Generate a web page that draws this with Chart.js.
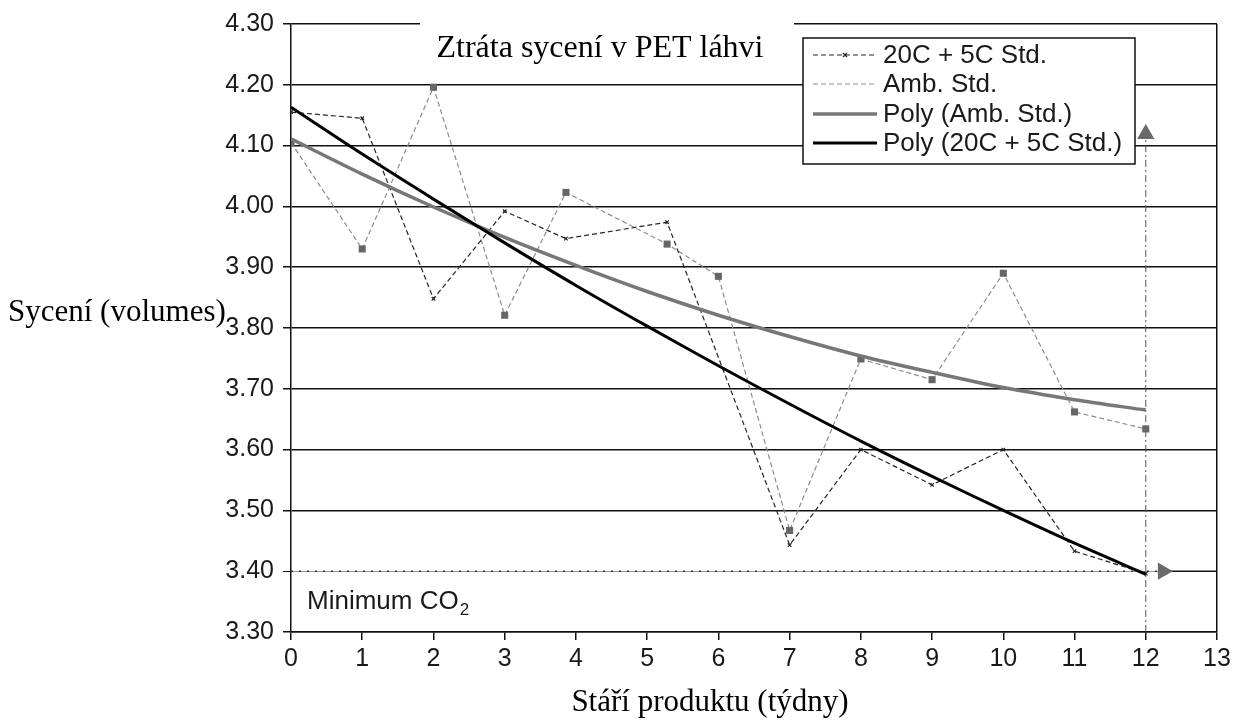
<!DOCTYPE html>
<html lang="cs">
<head>
<meta charset="UTF-8">
<title>Ztráta sycení v PET láhvi</title>
<script src="https://cdn.jsdelivr.net/npm/chart.js"></script>
<style>
  html, body { margin: 0; padding: 0; background: #fff; }
</style>
</head>
<body>
<canvas id="co2Chart" width="1236" height="721"></canvas>

<script>
// měření sycení (objemy CO2) podle stáří produktu v týdnech
const weeksAmb = [0, 1, 2, 3, 3.86, 5.28, 6, 7, 8, 9, 10, 11, 12];
const ambStd = [4.105, 3.93, 4.196, 3.821, 4.023, 3.938, 3.885, 3.467, 3.749, 3.715, 3.89, 3.662, 3.634];

const weeks20C = [0, 1, 2, 3, 3.86, 5.28, 7, 8, 9, 10, 11, 12];
const std20C5C = [4.155, 4.145, 3.848, 3.992, 3.947, 3.974, 3.443, 3.60, 3.542, 3.60, 3.433, 3.396];

// polynomické spojnice trendu
const trendWeeks = [0, 1, 2, 3, 4, 5, 6, 7, 8, 9, 10, 11, 12];
const polyAmb = [4.111, 4.053, 3.999, 3.949, 3.903, 3.860, 3.821, 3.786, 3.754, 3.727, 3.702, 3.682, 3.665];
const poly20C = [4.163, 4.086, 4.012, 3.940, 3.870, 3.803, 3.738, 3.675, 3.614, 3.556, 3.500, 3.446, 3.395];

// minimální sycení a šipky
const minCO2 = 3.40;
const shelfLife = 12;
const arrowUpTop = 4.119;
const arrowRightX = 12.24;

const yMin = 3.30, yMax = 4.30, yStep = 0.1;
const xMin = 0, xMax = 13;

const labels = ['20C + 5C Std.', 'Amb. Std.', 'Poly (Amb. Std.)', 'Poly (20C + 5C Std.)'];
const titleText = 'Ztráta sycení v PET láhvi';
const yTitle = 'Sycení (volumes)';
const xTitle = 'Stáří produktu (týdny)';

const pts = (xs, ys) => xs.map((x, i) => ({ x: x, y: ys[i] }));

const SANS = '"Liberation Sans", Arial, sans-serif';
const SERIF = '"Liberation Serif", "Times New Roman", serif';

// titulky, legenda a popisek minima
const decor = {
    id: 'decor',
    afterDraw(chart) {
        const ctx = chart.ctx;
        const a = chart.chartArea;
        ctx.save();

        // nadpis přerušuje horní linku
        ctx.fillStyle = '#fff';
        ctx.fillRect(420, a.top - 4, 374, 8);
        ctx.fillStyle = '#000';
        ctx.font = '32px ' + SERIF;
        ctx.textAlign = 'center';
        ctx.textBaseline = 'alphabetic';
        ctx.fillText(titleText, 600, 57);

        // popisky os
        ctx.font = '31px ' + SERIF;
        ctx.textAlign = 'left';
        ctx.fillText(yTitle, 8, 321);
        ctx.textAlign = 'center';
        ctx.fillText(xTitle, 710, 711);

        // Minimum CO2
        ctx.fillStyle = '#1a1a1a';
        ctx.textAlign = 'left';
        ctx.font = '26px ' + SANS;
        const t = 'Minimum CO';
        ctx.fillText(t, 307, 609);
        const w = ctx.measureText(t).width;
        ctx.font = '17px ' + SANS;
        ctx.fillText('2', 307 + w + 1, 615);

        // legenda
        const lx = 803, ly = 38, lw = 332, lh = 126;
        ctx.fillStyle = '#fff';
        ctx.fillRect(lx, ly, lw, lh);
        ctx.strokeStyle = '#111';
        ctx.lineWidth = 1.5;
        ctx.setLineDash([]);
        ctx.strokeRect(lx, ly, lw, lh);

        const rows = [55, 84, 114, 143];
        for (let i = 0; i < 4; i++) {
            const ds = chart.data.datasets[i];
            const y = rows[i];
            ctx.strokeStyle = ds.borderColor;
            ctx.lineWidth = ds.borderWidth;
            ctx.setLineDash(ds.borderDash || []);
            ctx.beginPath();
            ctx.moveTo(813, y);
            ctx.lineTo(877, y);
            ctx.stroke();
            if (i === 0) {
                ctx.setLineDash([]);
                ctx.lineWidth = 1.2;
                ctx.beginPath();
                ctx.moveTo(843, y - 2); ctx.lineTo(847, y + 2);
                ctx.moveTo(843, y + 2); ctx.lineTo(847, y - 2);
                ctx.stroke();
            }
            ctx.fillStyle = '#1a1a1a';
            ctx.font = '26px ' + SANS;
            ctx.textBaseline = 'middle';
            ctx.textAlign = 'left';
            ctx.fillText(labels[i], 883, y + 1);
        }
        ctx.restore();
    }
};

const ctx = document.getElementById('co2Chart').getContext('2d');
new Chart(ctx, {
    type: 'line',
    data: {
        datasets: [
            {
                label: labels[0],
                data: pts(weeks20C, std20C5C),
                borderColor: '#262626',
                borderWidth: 1.2,
                borderDash: [5, 3],
                pointStyle: 'crossRot',
                pointRadius: 2.5,
                pointBorderWidth: 1.2,
                pointBorderColor: '#262626',
                order: 2
            },
            {
                label: labels[1],
                data: pts(weeksAmb, ambStd),
                borderColor: '#8c8c8c',
                borderWidth: 1.2,
                borderDash: [5, 3],
                pointStyle: 'rect',
                pointRadius: 5,
                pointBorderWidth: 0,
                pointBackgroundColor: '#666',
                order: 3
            },
            {
                label: labels[2],
                data: pts(trendWeeks, polyAmb),
                borderColor: '#777',
                borderWidth: 3.5,
                pointRadius: 0,
                tension: 0.3,
                order: 1
            },
            {
                label: labels[3],
                data: pts(trendWeeks, poly20C),
                borderColor: '#000',
                borderWidth: 3,
                pointRadius: 0,
                tension: 0.3,
                order: 0
            },
            {
                // tečkovaná hranice minima se šipkou
                label: 'min',
                data: [{ x: xMin, y: minCO2 }, { x: arrowRightX, y: minCO2 }],
                borderColor: '#333',
                borderWidth: 1.5,
                borderDash: [2, 6],
                pointStyle: 'triangle',
                pointRotation: 90,
                pointRadius: [0, 10],
                pointBorderWidth: 0,
                pointBackgroundColor: '#6a6a6a',
                order: 4
            },
            {
                // plná linka minima za šipkou
                label: 'minRest',
                data: [{ x: arrowRightX, y: minCO2 }, { x: xMax, y: minCO2 }],
                borderColor: '#111',
                borderWidth: 1.5,
                pointRadius: 0,
                order: 5
            },
            {
                // svislá čerchovaná čára na konci trvanlivosti
                label: 'shelf',
                data: [{ x: shelfLife, y: yMin }, { x: shelfLife, y: arrowUpTop }],
                borderColor: '#555',
                borderWidth: 1,
                borderDash: [7, 3, 2, 3],
                pointStyle: 'triangle',
                pointRotation: 0,
                pointRadius: [0, 10],
                pointBorderWidth: 0,
                pointBackgroundColor: '#6a6a6a',
                order: 4
            }
        ]
    },
    options: {
        responsive: false,
        animation: false,
        devicePixelRatio: 1,
        layout: { padding: { top: 24, right: 19, left: 0, bottom: 0 } },
        plugins: {
            legend: { display: false },
            tooltip: { enabled: false },
            title: { display: false }
        },
        scales: {
            x: {
                type: 'linear',
                min: xMin,
                max: xMax,
                ticks: {
                    stepSize: 1,
                    color: '#1a1a1a',
                    font: { family: SANS, size: 25 },
                    padding: 4,
                    maxRotation: 0
                },
                grid: {
                    color: c => (c.tick && c.tick.value === xMax) ? '#111' : 'rgba(0,0,0,0)',
                    tickColor: '#111',
                    tickLength: 8,
                    lineWidth: 1.5
                },
                border: { display: true, color: '#111', width: 1.5 },
                afterFit: s => { s.height = 89; }
            },
            y: {
                min: yMin,
                max: yMax,
                ticks: {
                    stepSize: yStep,
                    callback: v => v.toFixed(2),
                    color: '#1a1a1a',
                    font: { family: SANS, size: 25 },
                    padding: 9
                },
                grid: {
                    color: c => (c.tick && Math.abs(c.tick.value - minCO2) < 1e-6) ? '#999' : '#111',
                    lineWidth: c => (c.tick && Math.abs(c.tick.value - minCO2) < 1e-6) ? 1 : 1.5,
                    tickColor: '#111',
                    tickLength: 8
                },
                border: { display: true, color: '#111', width: 1.5 },
                afterFit: s => { s.width = 291; }
            }
        }
    },
    plugins: [decor]
});
</script>
</body>
</html>
